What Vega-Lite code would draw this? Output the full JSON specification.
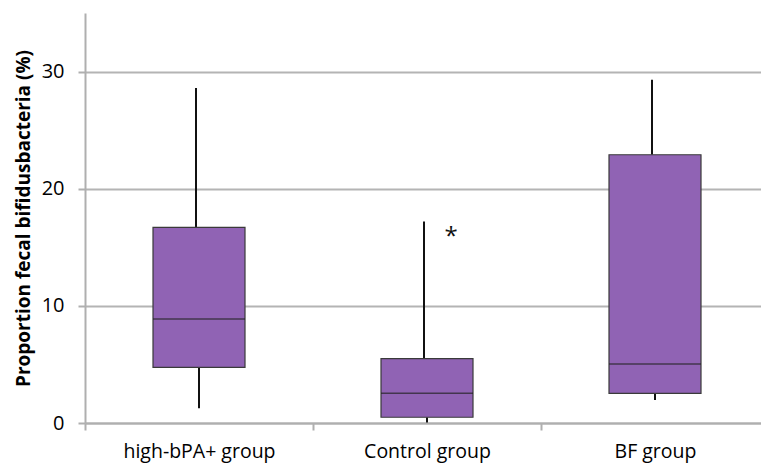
{
  "$schema": "https://vega.github.io/schema/vega-lite/v6.json",
  "width": 684,
  "height": 410,
  "autosize": "none",
  "padding": {"left": 85, "top": 13, "right": 0, "bottom": 42},
  "background": "white",
  "config": {
    "view": {"stroke": null},
    "font": "Open Sans",
    "axis": {"labelFont": "Open Sans", "titleFont": "Open Sans"}
  },
  "datasets": {
    "boxes": [
      {"group": "high-bPA+ group", "lower": 1.25, "q1": 4.75, "median": 8.87, "q3": 16.7, "upper": 28.6},
      {"group": "Control group", "lower": 0.05, "q1": 0.49, "median": 2.53, "q3": 5.5, "upper": 17.2},
      {"group": "BF group", "lower": 1.96, "q1": 2.53, "median": 5.03, "q3": 22.9, "upper": 29.3}
    ],
    "marks": [
      {"group": "Control group", "value": 15.9, "label": "*"}
    ]
  },
  "encoding": {
    "x": {
      "field": "group",
      "type": "nominal",
      "sort": ["high-bPA+ group", "Control group", "BF group"],
      "scale": {"paddingInner": 0, "paddingOuter": 0},
      "axis": {
        "title": null,
        "labelAngle": 0,
        "labelFontSize": 19.5,
        "labelColor": "#000000",
        "labelPadding": 12,
        "tickBand": "extent",
        "tickSize": 7,
        "tickColor": "#AFAFAF",
        "tickWidth": 2,
        "domainColor": "#AFAFAF",
        "domainWidth": 2,
        "grid": false
      }
    }
  },
  "layer": [
    {
      "data": {"name": "boxes"},
      "mark": {"type": "rule", "color": "#111111", "strokeWidth": 2},
      "encoding": {
        "y": {
          "field": "lower",
          "type": "quantitative",
          "scale": {"domain": [0, 35], "nice": false},
          "axis": {
            "title": "Proportion fecal bifidusbacteria (%)",
            "titleFontSize": 19,
            "titleFontWeight": "bold",
            "titleColor": "#000000",
            "titlePadding": 8,
            "values": [0, 10, 20, 30],
            "labelFontSize": 20,
            "labelColor": "#000000",
            "labelPadding": 14,
            "tickSize": 7,
            "tickColor": "#AFAFAF",
            "tickWidth": 2,
            "domainColor": "#AFAFAF",
            "domainWidth": 2,
            "grid": true,
            "gridColor": "#B4B4B4",
            "gridWidth": 2
          }
        },
        "y2": {"field": "q1"}
      }
    },
    {
      "data": {"name": "boxes"},
      "mark": {"type": "rule", "color": "#111111", "strokeWidth": 2, "xOffset": -3},
      "encoding": {
        "y": {"field": "q3", "type": "quantitative"},
        "y2": {"field": "upper"}
      }
    },
    {
      "data": {"name": "boxes"},
      "mark": {"type": "bar", "size": 92, "fill": "#9063B4", "stroke": "#3A3A3A", "strokeWidth": 1.2},
      "encoding": {
        "y": {"field": "q1", "type": "quantitative"},
        "y2": {"field": "q3"}
      }
    },
    {
      "data": {"name": "boxes"},
      "mark": {"type": "tick", "size": 92, "color": "#222222", "thickness": 1.5},
      "encoding": {
        "y": {"field": "median", "type": "quantitative"}
      }
    },
    {
      "data": {"name": "marks"},
      "mark": {"type": "text", "fontSize": 24, "dx": 24, "baseline": "middle", "color": "#111111"},
      "encoding": {
        "y": {"field": "value", "type": "quantitative"},
        "text": {"field": "label"}
      }
    }
  ]
}
